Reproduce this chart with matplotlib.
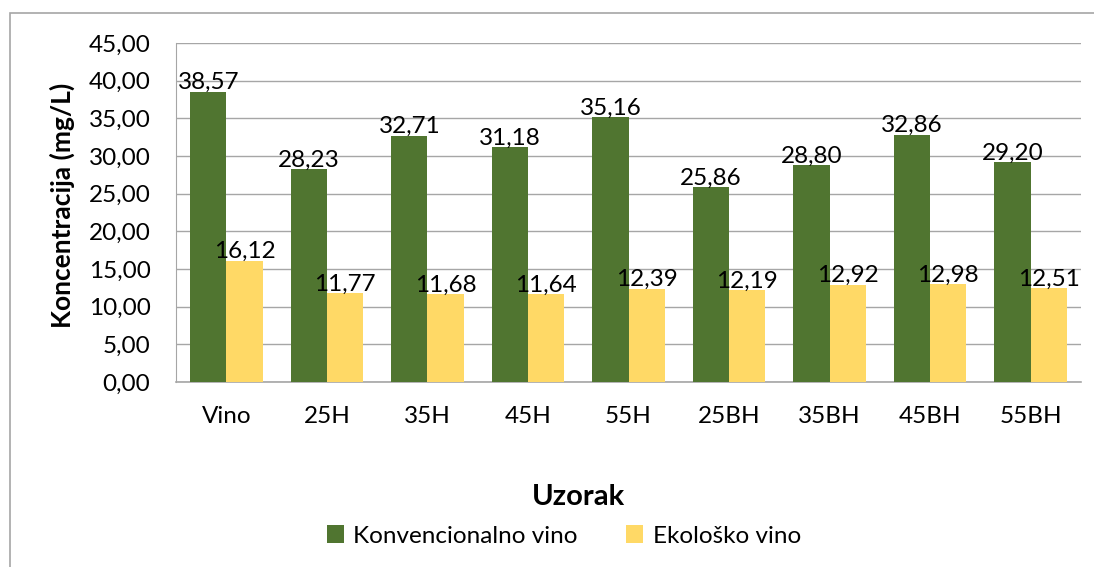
import numpy as np
import matplotlib
matplotlib.use('Agg')
import matplotlib.pyplot as plt
from matplotlib.patches import Rectangle

categories = ['Vino', '25H', '35H', '45H', '55H', '25BH', '35BH', '45BH', '55BH']
konvencionalno = [38.57, 28.23, 32.71, 31.18, 35.16, 25.86, 28.80, 32.86, 29.20]
ekolosko = [16.12, 11.77, 11.68, 11.64, 12.39, 12.19, 12.92, 12.98, 12.51]
series_names = ['Konvencionalno vino', 'Ekološko vino']

plt.rcParams['font.family'] = ['Lato', 'DejaVu Sans']

fig = plt.figure(figsize=(10.94, 5.67), dpi=100)
ax = fig.add_axes([0.161, 0.326, 0.827, 0.598])

# outer chart border
fig.patches.append(Rectangle((10 / 1094, -0.2), 1.2, 1.2 - 13 / 567,
                             transform=fig.transFigure, fill=False,
                             edgecolor='#A6A6A6', lw=1.2))

x = np.arange(len(categories))
w = 0.36
b1 = ax.bar(x - w / 2, konvencionalno, w, color='#507530', label=series_names[0], zorder=3)
b2 = ax.bar(x + w / 2, ekolosko, w, color='#FFD966', label=series_names[1], zorder=3)

def fmt(v):
    return f'{v:.2f}'.replace('.', ',')

for bars in (b1, b2):
    for r in bars:
        ax.text(r.get_x() + r.get_width() / 2, r.get_height() - 0.2, fmt(r.get_height()),
                ha='center', va='bottom', fontsize=17.5, zorder=4)

ax.set_ylim(0, 45)
ax.set_yticks(np.arange(0, 46, 5))
ax.set_yticklabels([fmt(v) for v in np.arange(0, 46, 5)], fontsize=17.5)
ax.set_xlim(-0.5, len(categories) - 0.5)
ax.set_xticks(x)
ax.set_xticklabels(categories, fontsize=17.5)
ax.tick_params(axis='both', length=0)
ax.tick_params(axis='x', pad=17)
ax.tick_params(axis='y', pad=18.5)

ax.grid(axis='y', color='#A6A6A6', lw=1, zorder=0)
ax.spines['top'].set_visible(False)
ax.spines['right'].set_visible(False)
ax.spines['left'].set_color('#A6A6A6')
ax.spines['bottom'].set_color('#A6A6A6')
ax.spines['bottom'].set_linewidth(1.2)

fig.text(62 / 1094, 1 - 205 / 567, 'Koncentracija (mg/L)', rotation=90,
         ha='center', va='center', fontsize=19, fontweight='bold')
fig.text(578 / 1094, 1 - 497 / 567, 'Uzorak', ha='center', va='center',
         fontsize=21, fontweight='bold')

fig.legend(loc='center', bbox_to_anchor=(564 / 1094, 1 - 536 / 567), ncol=2,
           frameon=False, fontsize=17.5, handlelength=0.7, handleheight=0.7,
           columnspacing=2.0, handletextpad=0.4)

fig.savefig('out.png', dpi=100)
